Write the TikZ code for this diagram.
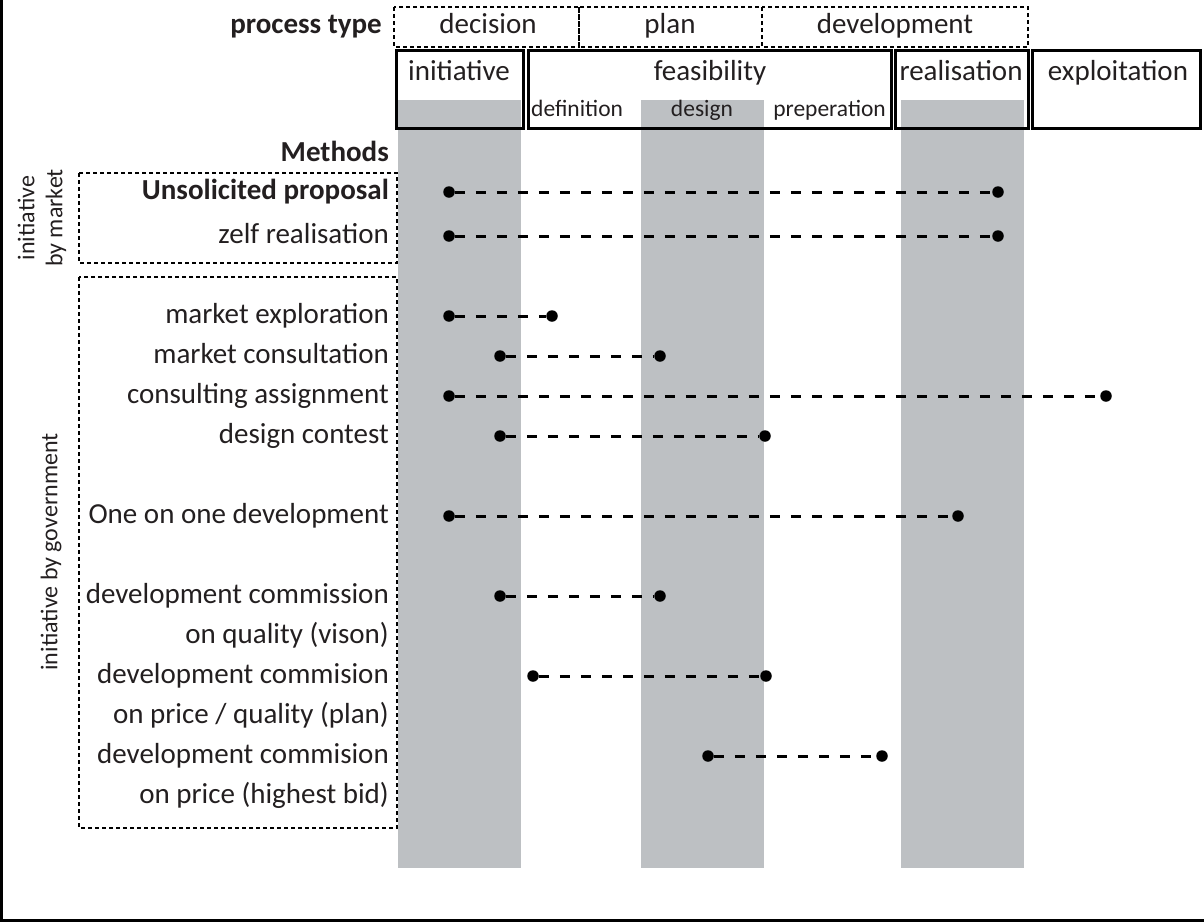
\documentclass[tikz,border=0pt]{standalone}
\usepackage{fontspec}
\setmainfont{Carlito}
\definecolor{ink}{HTML}{231F20}
\definecolor{band}{HTML}{BDC0C3}
\begin{document}
\begin{tikzpicture}[x=1pt,y=-1pt,
  big/.style={font=\fontsize{29}{34}\selectfont},
  bigbold/.style={font=\bfseries\fontsize{29}{34}\selectfont},
  small/.style={font=\fontsize{23.5}{28}\selectfont},
  side/.style={font=\fontsize{24}{28}\selectfont},
  txt/.style={text=ink, inner sep=0pt},
  rowlbl/.style={txt, big, anchor=mid east},
  dotbox/.style={draw=black, line width=2.6pt, dash pattern=on 4pt off 3pt},
  phasebox/.style={draw=black, line width=3pt},
  bandfill/.style={fill=band, draw=none},
  dot/.style={circle, fill=black, inner sep=0pt, minimum size=11.5pt},
  span/.style={draw=black, line width=3pt, dash pattern=on 10pt off 11pt},
]
\useasboundingbox (0,0) rectangle (1204,922);

% frame (left and bottom edges)
\draw[line width=3pt] (1.5,0) -- (1.5,920.5) -- (1204,920.5);

% grey phase bands
\fill[bandfill] (398,100) rectangle (521,868);
\fill[bandfill] (641,100) rectangle (764,868);
\fill[bandfill] (901,100) rectangle (1024,868);

% process types
\node[txt, bigbold, anchor=mid east] (ptype) at (382,31) {process type};
\draw[dotbox] (394,7) rectangle (579,47);
\draw[dotbox] (579,7) rectangle (762,47);
\draw[dotbox] (762,7) rectangle (1028,47);
\node[txt, big, anchor=mid] (decision) at (488,31) {decision};
\node[txt, big, anchor=mid] (plan) at (670,31) {plan};
\node[txt, big, anchor=mid] (development) at (895,31) {development};

% phases
\draw[phasebox] (396,50) rectangle (523,128);
\draw[phasebox] (528,50) rectangle (891,128);
\draw[phasebox] (895,50) rectangle (1028,128);
\draw[phasebox] (1032,50) rectangle (1200,128);
\node[txt, big, anchor=mid] (initiative) at (459,78) {initiative};
\node[txt, big, anchor=mid] (feasibility) at (710,78) {feasibility};
\node[txt, big, anchor=mid] (realisation) at (961,78) {realisation};
\node[txt, big, anchor=mid] (exploitation) at (1118,78) {exploitation};
\node[txt, small, anchor=mid west] (definition) at (531,114) {definition};
\node[txt, small, anchor=mid] (design) at (702,114) {design};
\node[txt, small, anchor=mid east] (preperation) at (886,114) {preperation};

% method groups
\node[txt, bigbold, anchor=mid east] (methods) at (389,159) {Methods};
\draw[dotbox] (79,173) rectangle (397,263);
\draw[dotbox] (79,277) rectangle (397,828);
\node[txt, side, rotate=90, align=center] (bymarket) at (42,218) {initiative\\by market};
\node[txt, side, rotate=90, anchor=mid] (bygov) at (55,552) {initiative by government};

% method labels
\node[rowlbl, bigbold] (m1) at (389,197) {Unsolicited proposal};
\node[rowlbl] (m2) at (389,241) {zelf realisation};
\node[rowlbl] (m3) at (389,321) {market exploration};
\node[rowlbl] (m4) at (389,361) {market consultation};
\node[rowlbl] (m5) at (389,401) {consulting assignment};
\node[rowlbl] (m6) at (389,441) {design contest};
\node[rowlbl] (m7) at (389,521) {One on one development};
\node[rowlbl] (m8) at (389,601) {development commission};
\node[rowlbl] (m8b) at (389,641) {on quality (vison)};
\node[rowlbl] (m9) at (389,681) {development commision};
\node[rowlbl] (m9b) at (389,721) {on price / quality (plan)};
\node[rowlbl] (m10) at (389,761) {development commision};
\node[rowlbl] (m10b) at (389,801) {on price (highest bid)};

% spans
\node[dot] (s1) at (449,192) {}; \node[dot] (e1) at (998,192) {};
\node[dot] (s2) at (449,236) {}; \node[dot] (e2) at (998,236) {};
\node[dot] (s3) at (449,316) {}; \node[dot] (e3) at (552,316) {};
\node[dot] (s4) at (500,356) {}; \node[dot] (e4) at (660,356) {};
\node[dot] (s5) at (449,396) {}; \node[dot] (e5) at (1106,396) {};
\node[dot] (s6) at (500,436) {}; \node[dot] (e6) at (765,436) {};
\node[dot] (s7) at (449,516) {}; \node[dot] (e7) at (958,516) {};
\node[dot] (s8) at (500,596) {}; \node[dot] (e8) at (660,596) {};
\node[dot] (s9) at (533,676) {}; \node[dot] (e9) at (766,676) {};
\node[dot] (s10) at (708,756) {}; \node[dot] (e10) at (882,756) {};
\foreach \i in {1,...,10} \draw[span] (s\i) -- (e\i);
\end{tikzpicture}
\end{document}
